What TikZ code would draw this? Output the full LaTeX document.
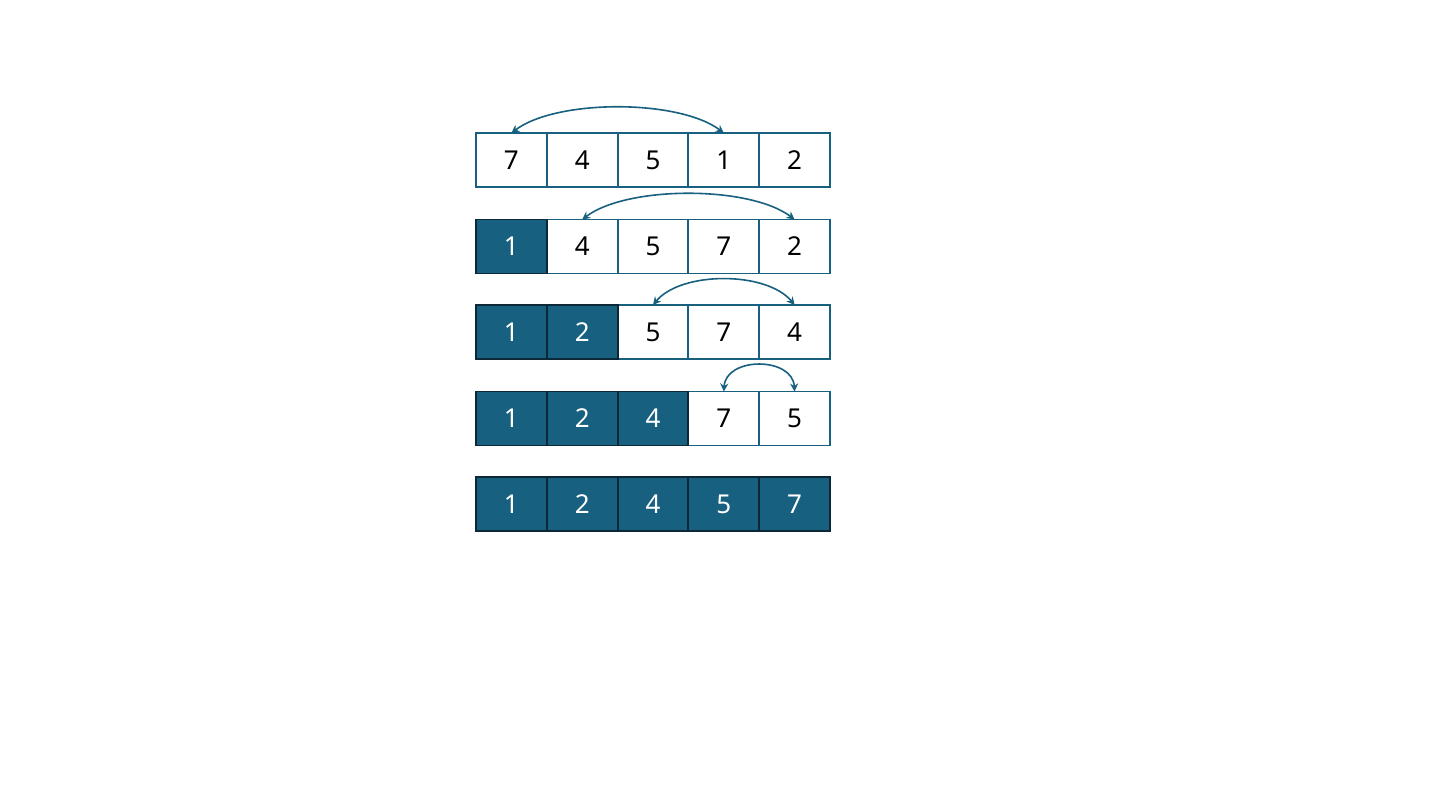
\documentclass[tikz,border=0pt]{standalone}
\usepackage{fontspec}
\setmainfont{Noto Sans}
\usetikzlibrary{arrows.meta,calc}
\definecolor{teal}{HTML}{17607F}
\definecolor{darkedge}{HTML}{0C2736}
\tikzset{
  cellbase/.style={minimum width=70.8pt,minimum height=54pt,inner sep=0pt,outer sep=0pt,font=\fontsize{26}{30}\selectfont},
  wcell/.style={cellbase,fill=white,text=black},
  dcell/.style={cellbase,fill=teal,text=white},
  wedge/.style={draw=teal,line width=1.9pt},
  dedge/.style={draw=darkedge,line width=1.9pt},
  swap/.style={draw=teal,line width=1.6pt,{Stealth[length=8pt,width=8pt]}-{Stealth[length=8pt,width=8pt]}}
}
\begin{document}
\begin{tikzpicture}[x=1pt,y=-1pt]
\useasboundingbox[fill=white] (0,0) rectangle (1440,810);
\foreach \r/\y/\vals/\nf in {1/160/{7,4,5,1,2}/0,2/246.5/{1,4,5,7,2}/1,3/332/{1,2,5,7,4}/2,4/418.5/{1,2,4,7,5}/3,5/504/{1,2,4,5,7}/5}{
  \foreach \v [count=\c] in \vals {
    \ifnum\c>\nf \def\st{wcell}\else\def\st{dcell}\fi
    \node[\st] (r\r c\c) at ({476+70.8*(\c-0.5)},\y) {\v};
  }
  \foreach \v [count=\c] in \vals {
    \ifnum\c>\nf
      \draw[wedge] (r\r c\c.north west) rectangle (r\r c\c.south east);
    \fi
  }
  \foreach \v [count=\c] in \vals {
    \ifnum\c>\nf\else
      \draw[dedge] (r\r c\c.north west) rectangle (r\r c\c.south east);
    \fi
  }
}
\draw[swap] (r1c1.north) .. controls ($(r1c1.north)+(45,-34)$) and ($(r1c4.north)+(-45,-34)$) .. (r1c4.north);
\draw[swap] (r2c2.north) .. controls ($(r2c2.north)+(45,-34)$) and ($(r2c5.north)+(-45,-34)$) .. (r2c5.north);
\draw[swap] (r3c3.north) .. controls ($(r3c3.north)+(28,-34)$) and ($(r3c5.north)+(-28,-34)$) .. (r3c5.north);
\draw[swap] (r4c4.north) .. controls ($(r4c4.north)+(2,-35)$) and ($(r4c5.north)+(-2,-35)$) .. (r4c5.north);
\end{tikzpicture}
\end{document}
